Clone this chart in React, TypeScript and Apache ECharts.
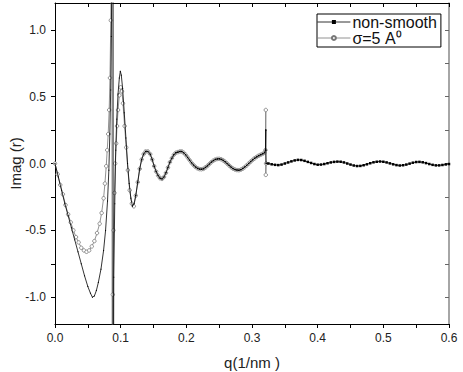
import React, { useEffect, useRef } from "react";
import * as echarts from "echarts";

// non-smooth series: q (1/nm) and Imag(r)
const qNS: number[] = [
  0, 0.005, 0.01, 0.015, 0.02, 0.025, 0.03, 0.035, 0.04, 0.045, 0.05, 0.054, 0.057, 0.06, 0.063, 0.066, 0.07, 0.074, 0.077, 0.08,
  0.082, 0.0835, 0.0848, 0.0858, 0.0866, 0.0872, 0.0885, 0.0885, 0.0895, 0.091, 0.0925, 0.094, 0.096, 0.098, 0.0995, 0.101, 0.103,
  0.1055, 0.108, 0.1105, 0.113, 0.1155, 0.118, 0.1205,
  0.123, 0.126, 0.129, 0.132, 0.135, 0.138, 0.1415, 0.145, 0.148, 0.151, 0.154, 0.157, 0.16, 0.163, 0.166, 0.169, 0.172, 0.175,
  0.178, 0.181, 0.184, 0.187, 0.19, 0.193, 0.196, 0.199, 0.202, 0.205, 0.208, 0.211, 0.214, 0.217, 0.22, 0.223, 0.226, 0.229,
  0.232, 0.235, 0.238, 0.241, 0.244, 0.247, 0.25, 0.253, 0.256, 0.259, 0.262, 0.265, 0.268, 0.271, 0.274, 0.277, 0.28, 0.283,
  0.286, 0.289, 0.292, 0.295, 0.298, 0.301, 0.304, 0.307, 0.31, 0.313, 0.316, 0.319,
  0.3205, 0.321, 0.321, 0.3215,
  0.325, 0.33, 0.335, 0.34, 0.345, 0.35, 0.355, 0.36, 0.365, 0.37, 0.375, 0.38, 0.385, 0.39, 0.395, 0.4, 0.405, 0.41, 0.415,
  0.42, 0.425, 0.43, 0.435, 0.44, 0.445, 0.45, 0.455, 0.46, 0.465, 0.47, 0.475, 0.48, 0.485, 0.49, 0.495, 0.5, 0.505, 0.51,
  0.515, 0.52, 0.525, 0.53, 0.535, 0.54, 0.545, 0.55, 0.555, 0.56, 0.565, 0.57, 0.575, 0.58, 0.585, 0.59, 0.595, 0.6,
];
const imagNS: number[] = [
  0, -0.1, -0.2, -0.3, -0.39, -0.48, -0.57, -0.66, -0.75, -0.84, -0.92, -0.97, -1.0, -0.99, -0.95, -0.89, -0.79, -0.65, -0.5, -0.28,
  -0.05, 0.22, 0.55, 0.95, 1.45, 3.0, 3.0, -3.0, -0.85, -0.3, 0.1, 0.33, 0.52, 0.64, 0.69, 0.66, 0.56,
  0.38, 0.19, 0.0, -0.15, -0.26, -0.32, -0.3,
  -0.24, -0.14, -0.04, 0.03, 0.07, 0.09, 0.09, 0.07, 0.03, -0.02, -0.06, -0.09, -0.11, -0.115, -0.1, -0.07, -0.03, 0.01,
  0.04, 0.065, 0.08, 0.085, 0.09, 0.09, 0.08, 0.065, 0.045, 0.025, 0.005, -0.012, -0.026, -0.036, -0.042, -0.043, -0.04, -0.03,
  -0.018, -0.004, 0.01, 0.021, 0.029, 0.034, 0.035, 0.032, 0.024, 0.013, 0.0, -0.014, -0.027, -0.038, -0.045, -0.049, -0.05, -0.046,
  -0.038, -0.027, -0.014, 0.0, 0.014, 0.027, 0.039, 0.049, 0.058, 0.065, 0.072, 0.08,
  0.1, 0.25, 0.1, 0.0,
  0.0, -0.006, -0.01, -0.012, -0.008, 0.0, 0.008, 0.016, 0.023, 0.027, 0.026, 0.02, 0.012, 0.004, -0.004, -0.009, -0.008, -0.004, 0.002,
  0.008, 0.012, 0.014, 0.013, 0.008, 0.0, -0.008, -0.015, -0.019, -0.018, -0.013, -0.006, 0.002, 0.009, 0.013, 0.015, 0.013, 0.008, 0.001,
  -0.006, -0.012, -0.015, -0.013, -0.008, -0.001, 0.006, 0.011, 0.012, 0.009, 0.003, -0.004, -0.01, -0.014, -0.014, -0.011, -0.007, -0.004,
];

// sigma = 5 A^0 series
const qSm: number[] = [
  0, 0.004, 0.008, 0.012, 0.016, 0.02, 0.024, 0.028, 0.032, 0.036, 0.04, 0.044, 0.048, 0.052, 0.056, 0.06, 0.064, 0.068, 0.071,
  0.074, 0.076, 0.078, 0.0795, 0.081, 0.0825, 0.0837, 0.085, 0.0858, 0.0865, 0.0872, 0.0872, 0.088, 0.089, 0.0905, 0.0917, 0.0932,
  0.0945, 0.096, 0.098, 0.1, 0.102, 0.1035, 0.106, 0.1085, 0.111, 0.1137, 0.117, 0.12,
  0.123, 0.126, 0.129, 0.132, 0.135, 0.138, 0.1415, 0.145, 0.148, 0.151, 0.154, 0.157, 0.16, 0.163, 0.166, 0.169, 0.172, 0.175,
  0.178, 0.181, 0.184, 0.187, 0.19, 0.193, 0.196, 0.199, 0.202, 0.205, 0.208, 0.211, 0.214, 0.217, 0.22, 0.223, 0.226, 0.229,
  0.232, 0.235, 0.238, 0.241, 0.244, 0.247, 0.25, 0.253, 0.256, 0.259, 0.262, 0.265, 0.268, 0.271, 0.274, 0.277, 0.28, 0.283,
  0.286, 0.289, 0.292, 0.295, 0.298, 0.301, 0.304, 0.307, 0.31, 0.313, 0.316, 0.319,
  0.3205, 0.321, 0.321, 0.3215,
];
const imagSm: number[] = [
  0, -0.08, -0.16, -0.23, -0.31, -0.38, -0.44, -0.5, -0.55, -0.59, -0.63, -0.65, -0.66, -0.65, -0.62, -0.58, -0.52, -0.45, -0.37,
  -0.26, -0.15, -0.02, 0.1, 0.22, 0.4, 0.64, 1.07, 1.6, 3.0, 3.0, -3.0, -0.98, -0.5, -0.22, 0.0, 0.15,
  0.28, 0.4, 0.51, 0.57, 0.54, 0.45, 0.28, 0.12, -0.05, -0.2, -0.3, -0.32,
  -0.24, -0.14, -0.04, 0.03, 0.07, 0.09, 0.09, 0.07, 0.03, -0.02, -0.06, -0.09, -0.11, -0.115, -0.1, -0.07, -0.03, 0.01,
  0.04, 0.065, 0.08, 0.085, 0.09, 0.09, 0.08, 0.065, 0.045, 0.025, 0.005, -0.012, -0.026, -0.036, -0.042, -0.043, -0.04, -0.03,
  -0.018, -0.004, 0.01, 0.021, 0.029, 0.034, 0.035, 0.032, 0.024, 0.013, 0.0, -0.014, -0.027, -0.038, -0.045, -0.049, -0.05, -0.046,
  -0.038, -0.027, -0.014, 0.0, 0.014, 0.027, 0.039, 0.049, 0.058, 0.065, 0.072, 0.08,
  0.1, 0.4, -0.085, 0.0,
];

const seriesNames: string[] = ["non-smooth", "σ=5 A⁰"];
const yTickValues: number[] = [-1, -0.75, -0.5, -0.25, 0, 0.25, 0.5, 0.75, 1];
const yLabelValues: number[] = [-1, -0.5, 0, 0.5, 1];

const FONT = "'Liberation Sans', Arial, sans-serif";

export default function App() {
  const ref = useRef<HTMLDivElement>(null);
  useEffect(() => {
    if (!ref.current) return;
    const chart = echarts.init(ref.current, undefined, { renderer: "svg" });
    const dataNS = qNS.map((q, i) => [q, imagNS[i]]);
    const dataSm = qSm.map((q, i) => [q, imagSm[i]]);
    chart.setOption({
      animation: false,
      backgroundColor: "#fff",
      textStyle: { fontFamily: FONT },
      grid: { left: 55, right: 14, top: 3, bottom: 48, containLabel: false, outerBoundsMode: "none" },
      legend: {
        data: seriesNames,
        orient: "vertical",
        left: 317,
        top: 14,
        itemWidth: 33,
        itemHeight: 5,
        itemGap: 0,
        padding: [0, 4, 1, 0],
        borderColor: "#000",
        borderWidth: 1,
        lineStyle: { width: 0.8 },
        textStyle: { fontSize: 16, color: "#111", fontFamily: FONT, padding: [0, 0, 0, -3] },
      },
      xAxis: [
        {
          type: "value",
          position: "bottom",
          min: 0,
          max: 0.6,
          interval: 0.1,
          axisLine: { show: true, onZero: false, lineStyle: { color: "#000", width: 1 } },
          axisTick: { show: true, inside: false, length: 4, lineStyle: { color: "#000" } },
          minorTick: { show: true, splitNumber: 2, length: 4, lineStyle: { color: "#000" } },
          splitLine: { show: false },
          axisLabel: {
            show: true,
            margin: 8,
            fontSize: 12,
            color: "#222",
            fontFamily: FONT,
            formatter: (v: number) => v.toFixed(1),
          },
          name: "q(1/nm )",
          nameLocation: "middle",
          nameGap: 31,
          nameMoveOverlap: false,
          nameTextStyle: { fontSize: 15, color: "#222", fontFamily: FONT },
        },
        {
          type: "value",
          position: "top",
          min: 0,
          max: 0.6,
          interval: 0.1,
          axisLine: { show: true, onZero: false, lineStyle: { color: "#000", width: 1 } },
          axisTick: { show: true, inside: true, length: 4, lineStyle: { color: "#000" } },
          minorTick: { show: true, splitNumber: 2, length: 4, lineStyle: { color: "#000" } },
          splitLine: { show: false },
          axisLabel: { show: false },
        },
      ],
      yAxis: [
        {
          type: "value",
          position: "left",
          min: -1.2,
          max: 1.2,
          axisLine: { show: true, onZero: false, lineStyle: { color: "#000", width: 1 } },
          axisTick: { show: true, inside: false, length: 4, customValues: yTickValues, lineStyle: { color: "#000" } },
          splitLine: { show: false },
          axisLabel: {
            show: true,
            margin: 9,
            fontSize: 12,
            color: "#222",
            fontFamily: FONT,
            customValues: yLabelValues,
            formatter: (v: number) => v.toFixed(1),
          },
          name: "Imag (r)",
          nameLocation: "middle",
          nameGap: 32,
          nameMoveOverlap: false,
          nameTextStyle: { fontSize: 15, color: "#222", fontFamily: FONT },
        },
        {
          type: "value",
          position: "right",
          min: -1.2,
          max: 1.2,
          axisLine: { show: true, onZero: false, lineStyle: { color: "#888", width: 1.5 } },
          axisTick: { show: true, inside: true, length: 4, customValues: yTickValues, lineStyle: { color: "#666" } },
          splitLine: { show: false },
          axisLabel: { show: false },
        },
      ],
      series: [
        {
          name: seriesNames[1],
          type: "line",
          xAxisIndex: 0,
          yAxisIndex: 0,
          data: dataSm,
          clip: true,
          symbol: "circle",
          symbolSize: 3.5,
          showSymbol: true,
          color: "#777",
          itemStyle: { color: "#fff", borderColor: "#777", borderWidth: 0.8 },
          lineStyle: { color: "#777", width: 0.8 },
          z: 2,
        },
        {
          name: seriesNames[0],
          type: "line",
          xAxisIndex: 0,
          yAxisIndex: 0,
          data: dataNS,
          clip: true,
          symbol: "rect",
          symbolSize: (v: number[]) => (v[0] > 0.323 ? 2.5 : v[0] > 0.122 ? 1.5 : 1),
          showSymbol: true,
          color: "#000",
          itemStyle: { color: "#000" },
          lineStyle: { color: "#000", width: 0.8 },
          z: 3,
        },
      ],
    });
    return () => chart.dispose();
  }, []);
  return (
    <div
      ref={ref}
      style={{ position: "fixed", left: 0, top: 0, width: 463, height: 372, background: "#fff" }}
    />
  );
}
